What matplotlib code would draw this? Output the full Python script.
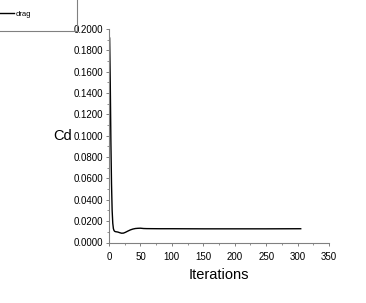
import matplotlib
matplotlib.use("Agg")
import matplotlib.pyplot as plt
from matplotlib.patches import Rectangle
from matplotlib.ticker import MultipleLocator, FormatStrFormatter

# drag coefficient history
iterations = [1, 2, 3, 4, 5, 6, 7, 8, 9, 10, 12, 14, 17, 20, 23, 26, 30, 34, 38, 42, 46,
              50, 55, 60, 80, 100, 150, 200, 250, 305]
cd = [0.1915, 0.150, 0.095, 0.055, 0.030, 0.018, 0.0130, 0.0112, 0.0105, 0.0102, 0.0100,
      0.0098, 0.0092, 0.0087, 0.0088, 0.0095, 0.0107, 0.0118, 0.0126, 0.0131, 0.0133,
      0.0134, 0.0131, 0.0130, 0.0129, 0.0129, 0.0128, 0.0128, 0.0128, 0.0129]

plt.rcParams["font.family"] = ["Liberation Sans", "DejaVu Sans"]

W, H = 366, 303
fig = plt.figure(figsize=(W / 100, H / 100), dpi=100)
ax = fig.add_axes([109 / W, 1 - 242.5 / H, (329 - 109) / W, (242.5 - 29) / H])

line, = ax.plot(iterations, cd, color="black", linewidth=1.0, label="drag")

ax.set_xlim(0, 350)
ax.set_ylim(0, 0.2)
ax.xaxis.set_major_locator(MultipleLocator(50))
ax.xaxis.set_minor_locator(MultipleLocator(25))
ax.yaxis.set_major_locator(MultipleLocator(0.02))
ax.yaxis.set_minor_locator(MultipleLocator(0.01))
ax.yaxis.set_major_formatter(FormatStrFormatter("%.4f"))

for s in ["top", "right"]:
    ax.spines[s].set_visible(False)
for s in ["left", "bottom"]:
    ax.spines[s].set_color("#808080")
    ax.spines[s].set_linewidth(0.8)

ax.tick_params(which="major", length=2.5, width=0.7, color="#808080", labelsize=7, pad=1.5)
ax.tick_params(which="minor", length=1.3, width=0.6, color="#808080")
ax.tick_params(axis="x", which="major", pad=4.5)

ax.set_xlabel("Iterations", fontsize=10.5, labelpad=4)
ax.set_ylabel("Cd", fontsize=10.5, rotation=0, va="center", ha="center")
ax.yaxis.set_label_coords(-0.209, 0.5)

# legend box in the top-left corner, partly cut off
fig.patches.append(Rectangle((-0.01, 1 - 31 / H), 77 / W + 0.01, 0.2,
                             transform=fig.transFigure, fill=False,
                             edgecolor="#808080", linewidth=0.8))
fig.legend(handles=[line], loc="center left", bbox_to_anchor=(-0.02, 1 - 14 / H),
           frameon=False, fontsize=5.5, handlelength=1.9, handletextpad=0.15)

fig.savefig("out.png", dpi=100)
